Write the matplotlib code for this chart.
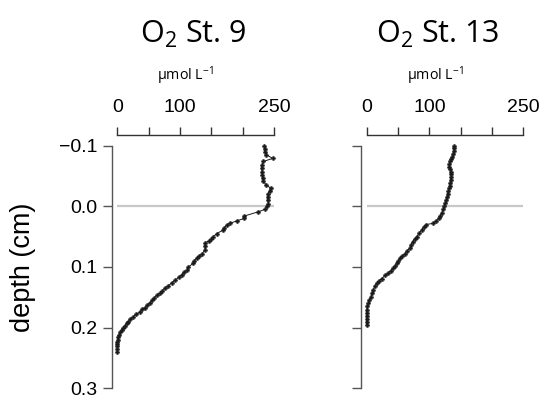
import matplotlib
matplotlib.use("Agg")
import matplotlib.pyplot as plt

plt.rcParams["font.family"] = ["Liberation Sans", "DejaVu Sans"]
plt.rcParams["mathtext.fontset"] = "custom"
plt.rcParams["mathtext.rm"] = "Open Sans"
plt.rcParams["mathtext.it"] = "Open Sans:italic"
plt.rcParams["mathtext.bf"] = "Open Sans:bold"

# St. 9 profile (depth in cm, O2 in umol/L)
depth9 = [-0.100, -0.095, -0.090, -0.085, -0.079, -0.074, -0.068, -0.063, -0.057, -0.052,
          -0.046, -0.041, -0.035, -0.030, -0.026, -0.021, -0.015, -0.010, -0.004, 0.000,
          0.005, 0.009, 0.016, 0.020, 0.024, 0.028, 0.031, 0.035, 0.039, 0.045,
          0.050, 0.054, 0.057, 0.060, 0.066, 0.072, 0.079, 0.082, 0.085, 0.090,
          0.094, 0.100, 0.105, 0.109, 0.113, 0.117, 0.122, 0.126, 0.131, 0.135,
          0.139, 0.143, 0.147, 0.151, 0.155, 0.159, 0.163, 0.167, 0.170, 0.174,
          0.178, 0.182, 0.186, 0.190, 0.193, 0.197, 0.201, 0.204, 0.208, 0.212,
          0.216, 0.220, 0.223, 0.227, 0.231, 0.235, 0.240]
o2_9 = [234.5, 235, 235.6, 238, 248, 233, 231, 230.4, 231, 231.4,
        232, 233, 238, 244.7, 243, 241, 240, 240, 241, 239,
        235.6, 225, 202.6, 202.6, 190.5, 180, 174.5, 171, 169, 158.6,
        153, 150, 146.8, 140, 140, 140, 134.6, 130, 126.7, 123,
        121.3, 113.3, 111.7, 107, 102.7, 98, 92, 87, 81.4, 76,
        72, 68.1, 63, 59, 55.5, 52.2, 48, 44, 40, 36.2,
        30.5, 25.5, 21, 17.5, 15, 12, 9, 7, 4.5, 2.7,
        1.5, 0.5, 0, 0, 0, 0, 0]

# St. 13 profile
depth13 = [-0.100, -0.096, -0.092, -0.087, -0.082, -0.078, -0.074, -0.070, -0.065, -0.061,
           -0.057, -0.053, -0.049, -0.044, -0.038, -0.034, -0.030, -0.025, -0.021, -0.015,
           -0.010, -0.005, 0.000, 0.005, 0.011, 0.016, 0.020, 0.024, 0.028, 0.030,
           0.034, 0.039, 0.044, 0.050, 0.054, 0.058, 0.063, 0.069, 0.073, 0.078,
           0.082, 0.086, 0.090, 0.094, 0.098, 0.102, 0.106, 0.110, 0.114, 0.119,
           0.123, 0.127, 0.132, 0.138, 0.143, 0.149, 0.155, 0.160, 0.165, 0.171,
           0.176, 0.181, 0.186, 0.191, 0.196]
o2_13 = [139.9, 139.5, 139.4, 138, 136.7, 134.5, 133, 132, 131.4, 133,
         134.1, 134.5, 134.6, 134, 133, 132.5, 131.9, 130.5, 129.3, 128,
         126.6, 125.3, 123.9, 122, 119.7, 117.5, 115.4, 111, 106.3, 94.7,
         91, 87.8, 84, 79.8, 76.5, 73.4, 71, 69.1, 65, 61.1,
         57, 53.2, 50.5, 47.9, 45, 42.5, 38.5, 34.5, 29.5, 23.9,
         19.5, 16, 13, 10.5, 8.5, 6.9, 4.5, 2.6, 1, 0,
         0, 0, 0, 0, 0]

titles = ["O$_2$ St. 9", "O$_2$ St. 13"]
xticks = [0, 50, 100, 150, 200, 250]
xlabels = ["0", "", "100", "", "", "250"]
yticks = [-0.1, 0.0, 0.1, 0.2, 0.3]

fig = plt.figure(figsize=(5.44, 4.01), dpi=100)
ax1 = fig.add_axes([0.2156, 0.0317, 0.288, 0.605])
ax2 = fig.add_axes([0.674, 0.0317, 0.288, 0.605])

for i, (ax, d, v) in enumerate([(ax1, depth9, o2_9), (ax2, depth13, o2_13)]):
    ax.axhline(0.0, color="#c8c8c8", lw=1.6, zorder=1)
    ax.plot(v, d, color="#1a1a1a", lw=0.7, marker="P", ms=3.0,
            mec="#1a1a1a", mfc="#1a1a1a", mew=0.3, zorder=3, clip_on=False)
    ax.set_xlim(0, 250)
    ax.set_ylim(0.3, -0.1)
    ax.spines["right"].set_visible(False)
    ax.spines["bottom"].set_visible(False)
    ax.spines["top"].set_position(("outward", 7.5))
    ax.spines["left"].set_position(("outward", 4))
    ax.spines["top"].set_color("#333333")
    ax.spines["left"].set_color("#555555")
    ax.spines["top"].set_linewidth(1.0)
    ax.spines["left"].set_linewidth(1.0)
    ax.xaxis.tick_top()
    ax.set_xticks(xticks)
    ax.set_xticklabels(xlabels)
    ax.set_yticks(yticks)
    ax.tick_params(axis="x", direction="out", length=6, width=1.0, color="#333333",
                   labelsize=14, pad=8)
    ax.tick_params(axis="y", direction="out", length=6.5, width=1.0, color="#555555",
                   labelsize=14, pad=4)
    if i == 0:
        ax.set_yticklabels(["\u22120.1", "0.0", "0.1", "0.2", "0.3"])
    else:
        ax.set_yticklabels([])
    cx = ax.get_position().x0 + ax.get_position().width / 2
    fig.text(cx - 0.004 - 0.01 * i, 0.915, titles[i], ha="center", va="center",
             fontsize=22, family="Open Sans")
    fig.text(cx - 0.018, 0.812, "\u03bcmol L$^{\u22121}$", ha="center", va="center",
             fontsize=10.3, family="Open Sans")

fig.text(0.042, 0.334, "depth (cm)", rotation=90, ha="center", va="center", fontsize=19.5)

fig.savefig("out.png", dpi=100)
